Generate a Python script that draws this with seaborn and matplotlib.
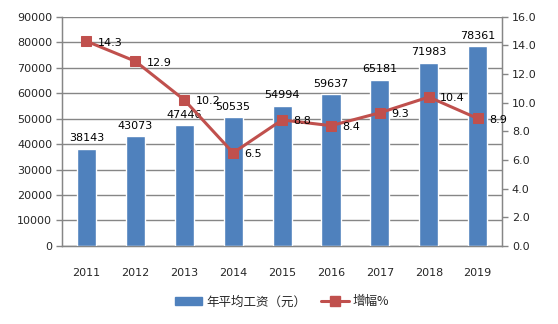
import numpy as np
import matplotlib
matplotlib.use("Agg")
import matplotlib.pyplot as plt
from matplotlib.lines import Line2D
from matplotlib.patches import Patch
import seaborn as sns

years = ["2011", "2012", "2013", "2014", "2015", "2016", "2017", "2018", "2019"]
wages = [38143, 43073, 47446, 50535, 54994, 59637, 65181, 71983, 78361]
growth = [14.3, 12.9, 10.2, 6.5, 8.8, 8.4, 9.3, 10.4, 8.9]
left_ticks = list(range(0, 90001, 10000))
right_ticks = [0.0, 2.0, 4.0, 6.0, 8.0, 10.0, 12.0, 14.0, 16.0]

bar_color = "#4F81BD"
line_color = "#C0504D"
grid_color = "#868686"
fs = 8

sns.set_style("white")
plt.rcParams["font.family"] = ["DejaVu Sans", "Noto Sans CJK SC"]

fig = plt.figure(figsize=(5.58, 3.24), dpi=100)
ax = fig.add_axes([0.111, 0.241, 0.789, 0.707])

sns.barplot(x=years, y=wages, color=bar_color, width=0.39, saturation=1, ax=ax, zorder=3)
ax.set_ylim(0, 90000)
ax.set_xlim(-0.5, len(years) - 0.5)
ax.set_yticks(left_ticks)
ax.set_yticklabels([str(v) for v in left_ticks], fontsize=fs)
ax.yaxis.grid(True, color=grid_color, linewidth=1, zorder=0)
ax.set_axisbelow(True)
ax.set_xlabel("")
ax.set_ylabel("")
ax.tick_params(axis="x", which="major", length=0, pad=16, labelsize=fs)
ax.set_xticks(np.arange(-0.5, len(years), 1.0), minor=True)
ax.tick_params(axis="x", which="minor", length=4, color=grid_color, width=1, direction="out")
ax.tick_params(axis="y", length=4, color=grid_color, width=1, direction="out", pad=3)
for side in ["left", "bottom", "right"]:
    ax.spines[side].set_color(grid_color)
    ax.spines[side].set_linewidth(1)
ax.spines["top"].set_visible(False)

for i, v in enumerate(wages):
    ax.annotate(str(v), (i, v), xytext=(0, 4), textcoords="offset points",
                ha="center", va="bottom", fontsize=fs, color="black", zorder=5)

ax2 = ax.twinx()
sns.lineplot(x=np.arange(len(years)), y=growth, color=line_color, linewidth=2.2,
             marker="s", markersize=6.5, markeredgecolor=line_color, ax=ax2, zorder=4)
ax2.set_ylim(0, 16)
ax2.set_yticks(right_ticks)
ax2.set_yticklabels([f"{v:.1f}" for v in right_ticks], fontsize=fs)
ax2.tick_params(axis="y", length=4, color=grid_color, width=1, direction="out", pad=3)
ax2.set_ylabel("")
for side in ["left", "bottom", "right"]:
    ax2.spines[side].set_color(grid_color)
ax2.spines["top"].set_visible(False)

for i, v in enumerate(growth):
    ax2.annotate(f"{v}", (i, v), xytext=(8, -1), textcoords="offset points",
                 ha="left", va="center", fontsize=fs, color="black", zorder=6)

handles = [Patch(facecolor=bar_color, edgecolor=bar_color),
           Line2D([0], [0], color=line_color, linewidth=2.2, marker="s",
                  markersize=6.5, markeredgecolor=line_color)]
labels = ["年平均工资（元）", "增幅%"]
fig.legend(handles, labels, loc="center", bbox_to_anchor=(0.505, 0.068), ncol=2,
           frameon=False, prop={"family": ["Noto Sans CJK SC", "DejaVu Sans"], "size": 9},
           handlelength=2.2, handleheight=0.6, columnspacing=1.2, handletextpad=0.3)

fig.savefig("out.png", dpi=100)
